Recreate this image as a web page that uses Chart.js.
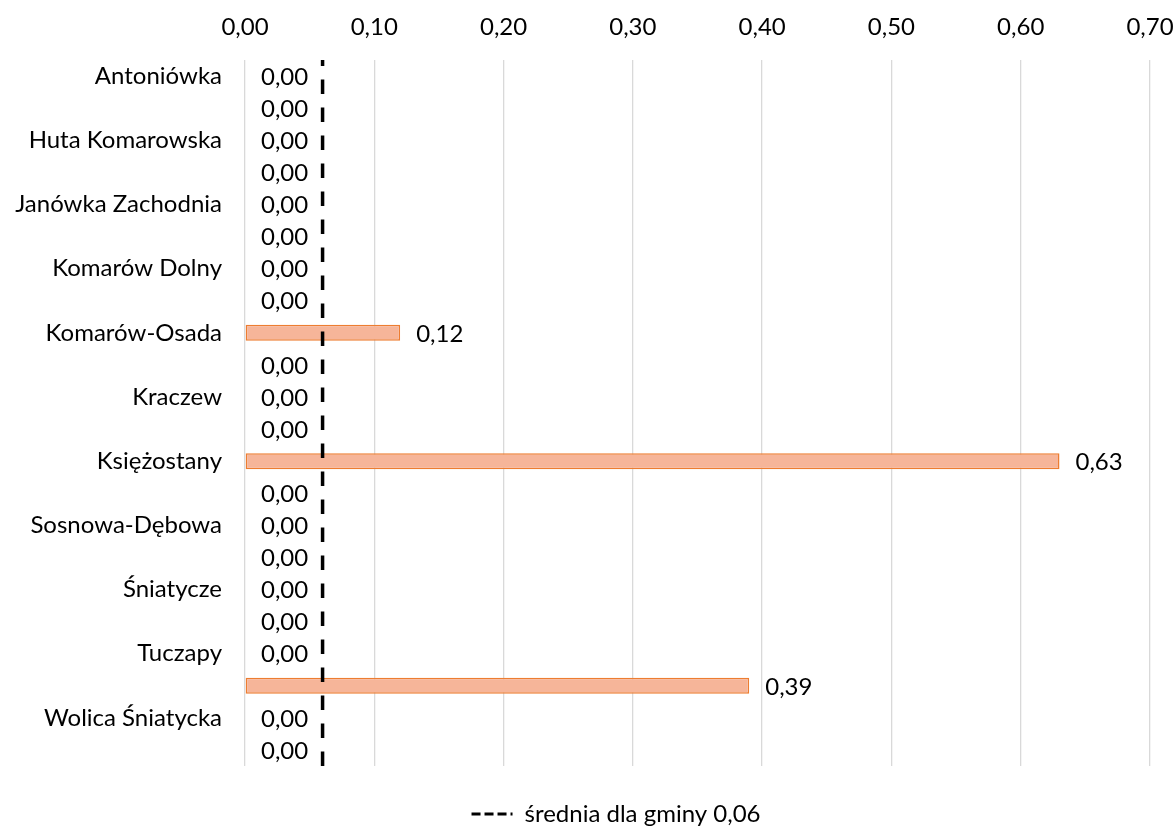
<!DOCTYPE html>
<html>
<head>
<meta charset="utf-8">
<title>Średnia dla gminy</title>
<script src="https://cdn.jsdelivr.net/npm/chart.js@4.4.1/dist/chart.umd.min.js"></script>
<style>
    html, body { margin: 0; padding: 0; background: #fff; }
    #wrap { width: 1176px; height: 829px; }
</style>
</head>
<body>
<div id="wrap"><canvas id="chart" width="1176" height="829"></canvas></div>
<script>
// categories (every other label is hidden in the original chart)
const categories = [
    "Antoniówka", "",
    "Huta Komarowska", "",
    "Janówka Zachodnia", "",
    "Komarów Dolny", "",
    "Komarów-Osada", "",
    "Kraczew", "",
    "Księżostany", "",
    "Sosnowa-Dębowa", "",
    "Śniatycze", "",
    "Tuczapy", "",
    "Wolica Śniatycka", ""
];

const values = [
    0, 0, 0, 0, 0, 0, 0, 0,
    0.12, 0, 0, 0, 0.63, 0, 0, 0,
    0, 0, 0, 0.39, 0, 0
];

const averageValue = 0.06;
const averageLabel = "średnia dla gminy 0,06";

const xTicks = [0, 0.1, 0.2, 0.3, 0.4, 0.5, 0.6, 0.7];

const FONT = "Lato";
const PAD_LEFT = 82;
const fmt = v => v.toFixed(2).replace(".", ",");

//value labels next to the bars
const barLabels = {
    id: "barLabels",
    afterLayout(chart) {
        // let the category labels use the space left of the padding
        chart.scales.y.left = 0;
    },
    afterDatasetsDraw(chart) {
        const ctx = chart.ctx;
        const meta = chart.getDatasetMeta(0);
        ctx.save();
        ctx.font = "24px " + FONT;
        ctx.fillStyle = "#000";
        ctx.textAlign = "left";
        ctx.textBaseline = "middle";
        meta.data.forEach((bar, i) => {
            ctx.fillText(fmt(values[i]), bar.x + 16, bar.y + 1);
        });
        ctx.restore();
    }
};

const ctx = document.getElementById("chart").getContext("2d");

new Chart(ctx, {
    type: "bar",
    data: {
        labels: categories,
        datasets: [
            {
                label: "wartość",
                data: values,
                backgroundColor: c => (c.raw > 0 ? "#F6B599" : "rgba(0,0,0,0)"),
                borderColor: c => (c.raw > 0 ? "#ED7D31" : "rgba(0,0,0,0)"),
                borderWidth: c => (c.raw > 0 ? 1.5 : 0),
                borderSkipped: false,
                grouped: false,
                maxBarThickness: 16,
                yAxisID: "y",
                xAxisID: "x",
                order: 2
            },
            {
                type: "line",
                label: averageLabel,
                data: [{ x: averageValue, y: 0 }, { x: averageValue, y: 1 }],
                indexAxis: "y",
                borderColor: "#000",
                borderWidth: 3.5,
                borderDash: [14.5, 13.5],
                borderCapStyle: "butt",
                pointRadius: 0,
                fill: false,
                yAxisID: "yAvg",
                xAxisID: "x",
                order: 1
            }
        ]
    },
    options: {
        indexAxis: "y",
        responsive: false,
        animation: false,
        layout: {
            padding: { left: PAD_LEFT, right: 26, top: 0, bottom: -7 }
        },
        scales: {
            x: {
                position: "top",
                min: 0,
                max: 0.7,
                afterBuildTicks: s => { s.ticks = xTicks.map(v => ({ value: v })); },
                afterFit: s => {
                    s.height = 60;
                    s.paddingLeft = 0;
                    s.paddingRight = 0;
                },
                ticks: {
                    callback: v => fmt(v),
                    font: { family: FONT, size: 24 },
                    color: "#000",
                    padding: 18
                },
                grid: { color: "#D9D9D9", lineWidth: 1.3, drawTicks: false },
                border: { display: false }
            },
            // empty axis, only keeps the gap above the legend
            xGap: {
                type: "linear",
                position: "bottom",
                display: true,
                afterFit: s => {
                    s.height = 36;
                    s.paddingLeft = 0;
                    s.paddingRight = 0;
                },
                ticks: { display: false },
                grid: { display: false, drawTicks: false },
                border: { display: false }
            },
            y: {
                afterFit: s => { s.width = 245 - PAD_LEFT; },
                ticks: {
                    autoSkip: false,
                    font: { family: FONT, size: 24 },
                    color: "#000",
                    padding: 23
                },
                grid: { display: false, drawTicks: false },
                border: { display: false }
            },
            yAvg: {
                type: "linear",
                display: false,
                offset: false,
                min: 0,
                max: 1
            }
        },
        plugins: {
            legend: {
                position: "bottom",
                labels: {
                    font: { family: FONT, size: 24, lineHeight: 1 },
                    color: "#000",
                    usePointStyle: true,
                    pointStyleWidth: 41,
                    boxHeight: 24,
                    padding: 0,
                    filter: item => item.datasetIndex === 1,
                    generateLabels: chart => [{
                        text: averageLabel,
                        datasetIndex: 1,
                        pointStyle: "line",
                        strokeStyle: "#000",
                        fillStyle: "#000",
                        lineWidth: 3,
                        lineDash: [9, 4],
                        lineCap: "butt",
                        fontColor: "#000"
                    }]
                }
            },
            tooltip: { enabled: false }
        }
    },
    plugins: [barLabels]
});
</script>
</body>
</html>
